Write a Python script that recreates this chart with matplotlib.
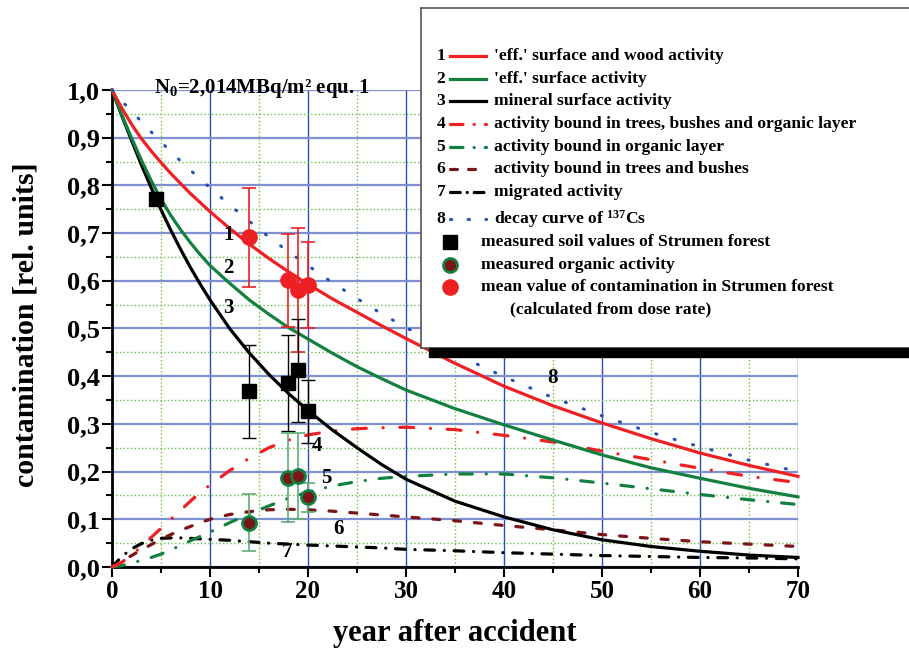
import numpy as np
import matplotlib
matplotlib.use('Agg')
import matplotlib.pyplot as plt
from matplotlib.patches import Rectangle
from matplotlib.ticker import MultipleLocator, FuncFormatter

plt.rcParams['font.family'] = ['Liberation Serif', 'DejaVu Serif']
plt.rcParams['font.weight'] = 'bold'
plt.rcParams['axes.labelweight'] = 'bold'
plt.rcParams['mathtext.fontset'] = 'custom'
plt.rcParams['mathtext.rm'] = 'Liberation Serif:bold'
plt.rcParams['mathtext.it'] = 'Liberation Serif:bold'
plt.rcParams['mathtext.bf'] = 'Liberation Serif:bold'
plt.rcParams['lines.scale_dashes'] = False

# model curves (relative units)
years = [0, 1, 2, 3, 4, 5, 6, 7, 8, 9, 10, 12, 14, 16, 18, 20, 22.5, 25, 27.5, 30,
         35, 40, 45, 50, 55, 60, 65, 70]
surface_wood = [1.0, 0.962, 0.928, 0.898, 0.872, 0.848, 0.825, 0.804, 0.783, 0.764, 0.745,
                0.710, 0.677, 0.647, 0.619, 0.593, 0.562, 0.534, 0.506, 0.479,
                0.427, 0.379, 0.338, 0.302, 0.269, 0.239, 0.213, 0.190]
surface = [1.0, 0.948, 0.899, 0.853, 0.810, 0.771, 0.737, 0.707, 0.680, 0.655, 0.632,
           0.595, 0.560, 0.530, 0.502, 0.478, 0.448, 0.420, 0.395, 0.371,
           0.332, 0.298, 0.266, 0.235, 0.208, 0.186, 0.165, 0.147]
mineral = [1.0, 0.946, 0.894, 0.843, 0.795, 0.749, 0.706, 0.666, 0.628, 0.593, 0.560,
           0.500, 0.449, 0.404, 0.364, 0.328, 0.287, 0.250, 0.215, 0.184,
           0.138, 0.105, 0.078, 0.057, 0.043, 0.033, 0.025, 0.020]
trees_organic = [0.0, 0.010, 0.025, 0.043, 0.062, 0.081, 0.100, 0.119, 0.138, 0.156, 0.172,
                 0.202, 0.228, 0.250, 0.266, 0.277, 0.285, 0.290, 0.292, 0.293,
                 0.288, 0.276, 0.262, 0.243, 0.225, 0.207, 0.190, 0.177]
organic = [0.0, 0.003, 0.008, 0.014, 0.020, 0.027, 0.036, 0.045, 0.055, 0.064, 0.073,
           0.093, 0.111, 0.128, 0.144, 0.157, 0.170, 0.179, 0.186, 0.190,
           0.195, 0.195, 0.187, 0.176, 0.164, 0.152, 0.141, 0.131]
trees = [0.0, 0.012, 0.024, 0.036, 0.047, 0.058, 0.068, 0.077, 0.085, 0.093, 0.100,
         0.110, 0.116, 0.120, 0.121, 0.120, 0.117, 0.113, 0.109, 0.105,
         0.097, 0.087, 0.078, 0.068, 0.060, 0.053, 0.048, 0.043]
migrated = [0.0, 0.022, 0.038, 0.049, 0.056, 0.060, 0.061, 0.061, 0.060, 0.059, 0.058,
            0.056, 0.053, 0.050, 0.048, 0.046, 0.044, 0.042, 0.040, 0.037,
            0.034, 0.030, 0.027, 0.024, 0.022, 0.020, 0.019, 0.017]
decay = [1.0, 0.977, 0.955, 0.934, 0.912, 0.891, 0.871, 0.851, 0.832, 0.813, 0.795,
         0.759, 0.725, 0.692, 0.661, 0.632, 0.596, 0.563, 0.531, 0.502,
         0.447, 0.399, 0.355, 0.317, 0.282, 0.252, 0.224, 0.200]

# measurements
soil_x = [4.5, 14, 18, 19, 20]
soil_y = [0.772, 0.368, 0.386, 0.412, 0.326]
soil_err = [0.0, 0.097, 0.100, 0.108, 0.065]
org_x = [14, 18, 19, 20]
org_y = [0.093, 0.187, 0.191, 0.146]
org_err = [0.060, 0.093, 0.090, 0.030]
mean_x = [14, 18, 19, 20]
mean_y = [0.691, 0.601, 0.581, 0.591]
mean_err = [0.104, 0.098, 0.130, 0.090]

RED = '#ee2024'
GREEN = '#138040'
DRED = '#7a1518'
BLUE = '#2a4fb0'

fig = plt.figure(figsize=(9.09, 6.5), dpi=100)
ax = fig.add_axes([112 / 909, 1 - 567 / 650, 686 / 909, 477 / 650])

lw = 2.3
styles = [
    (surface_wood, RED, '-'),
    (surface, GREEN, '-'),
    (mineral, 'black', '-'),
    (trees_organic, RED, (0, (10, 12, 0.1, 12))),
    (organic, GREEN, (0, (9, 10, 0.1, 10))),
    (trees, DRED, (0, (5, 10))),
    (migrated, 'black', (0, (7, 7, 0.1, 7))),
]
for vals, col, ls in styles[::-1]:
    ax.plot(years, vals, color=col, ls=ls, lw=lw, dash_capstyle='round', zorder=3, clip_on=False)
ax.plot(years, decay, color=BLUE, ls=(0, (0.8, 13)), lw=2.2, dash_capstyle='round',
        zorder=3, clip_on=False)

# error bars and points
ax.errorbar(mean_x, mean_y, yerr=mean_err, fmt='none', ecolor=RED, elinewidth=1.2, capsize=5,
            capthick=1.2, zorder=4)
ax.errorbar(soil_x, soil_y, yerr=soil_err, fmt='none', ecolor='black', elinewidth=1.0, capsize=5,
            capthick=1.0, zorder=4)
ax.errorbar(org_x, org_y, yerr=org_err, fmt='none', ecolor='#5fae78', elinewidth=1.2, capsize=5,
            capthick=1.2, zorder=4)
ax.plot(mean_x, mean_y, 'o', color=RED, ms=11, zorder=5)
ax.plot(soil_x, soil_y, 's', color='black', ms=10, zorder=5)
ax.plot(org_x, org_y, 'o', mfc=DRED, mec=GREEN, mew=2, ms=10, zorder=5)

ax.set_xlim(0, 70)
ax.set_ylim(0, 1.0)
ax.xaxis.set_major_locator(MultipleLocator(10))
ax.xaxis.set_minor_locator(MultipleLocator(5))
ax.yaxis.set_major_locator(MultipleLocator(0.1))
ax.yaxis.set_minor_locator(MultipleLocator(0.05))
ax.yaxis.set_major_formatter(FuncFormatter(lambda v, p: ('%.1f' % v).replace('.', ',')))
ax.xaxis.grid(which='major', color=BLUE, lw=1.0, zorder=0)
ax.yaxis.grid(which='major', color='#7f90d2', lw=1.6, zorder=0)
ax.grid(which='minor', color='#6cc04a', ls=':', lw=1.0, zorder=0)
ax.set_axisbelow(True)
for s in ['top', 'right']:
    ax.spines[s].set_visible(False)
for s in ['left', 'bottom']:
    ax.spines[s].set_linewidth(2)
ax.tick_params(which='both', direction='out', width=1.5, pad=2)
ax.tick_params(axis='y', labelsize=19)
ax.tick_params(axis='x', labelsize=18)
ax.tick_params(which='major', length=7)
ax.tick_params(which='minor', length=4)

ax.set_xlabel('year after accident', fontsize=22, fontweight='bold')
ax.xaxis.set_label_coords(0.5, -0.108)
ax.set_ylabel('contamination [rel. units]', fontsize=21.5, fontweight='bold')
ax.yaxis.set_label_coords(-0.105, 0.507)

ax.text(15.3, 1.004, r'N$_\mathrm{0}$=2,014MBq/m² equ. 1', ha='center', va='center', fontsize=15)

# curve numbers
for txt, x, y in [('1', 11.85, 0.696), ('2', 11.85, 0.627), ('3', 11.85, 0.543), ('4', 20.9, 0.254),
                  ('5', 21.9, 0.187), ('6', 23.1, 0.080), ('7', 17.9, 0.031), ('8', 44.9, 0.396)]:
    ax.text(x, y, txt, ha='center', va='center', fontsize=15, zorder=6)

# legend box (pixel coordinates)
lax = fig.add_axes([421 / 909, 1 - 348 / 650, 520 / 909, 340 / 650], zorder=5)
lax.set_xlim(421, 941)
lax.set_ylim(348, 8)
lax.set_xticks([])
lax.set_yticks([])
for s in lax.spines.values():
    s.set_color('#555555')
    s.set_linewidth(1.2)

labels = ["'eff.' surface and wood activity", "'eff.' surface activity", 'mineral surface activity',
          'activity bound in trees, bushes and organic layer', 'activity bound in organic layer',
          'activity bound in trees and bushes', 'migrated activity', r'decay curve of $^{\mathrm{137}}$Cs']
rows = [56, 79, 101, 124, 147, 169, 192, 219]
handles = [(RED, '-'), (GREEN, '-'), ('black', '-'), (RED, (0, (9, 8, 0.1, 8))),
           (GREEN, (0, (9, 8, 0.1, 8))), (DRED, (0, (5, 8))), ('black', (0, (7, 5, 0.1, 5))),
           (BLUE, (0, (0.8, 12)))]
fs = 12.6
for i, (lab, yy, (col, ls)) in enumerate(zip(labels, rows, handles)):
    lax.text(441, yy, str(i + 1), ha='center', va='center', fontsize=fs)
    lax.plot([450, 486], [yy, yy], color=col, ls=ls, lw=2.3, dash_capstyle='round')
    lax.text(494, yy, lab, ha='left', va='center', fontsize=fs)

lax.plot([450], [242], 's', color='black', ms=10)
lax.text(481, 242, 'measured soil values of Strumen forest', ha='left', va='center', fontsize=fs)
lax.plot([450], [265], 'o', mfc=DRED, mec=GREEN, mew=2, ms=10)
lax.text(481, 265, 'measured organic activity', ha='left', va='center', fontsize=fs)
lax.plot([450], [287], 'o', color=RED, ms=11)
lax.text(481, 287, 'mean value of contamination in Strumen forest', ha='left', va='center', fontsize=fs)
lax.text(510, 309, '(calculated from dose rate)', ha='left', va='center', fontsize=fs)

# shadow under the legend
fig.add_artist(Rectangle((429 / 909, 1 - 357 / 650), 480 / 909, 9 / 650, transform=fig.transFigure,
                         color='black', zorder=6))

fig.savefig('out.png', dpi=100)
